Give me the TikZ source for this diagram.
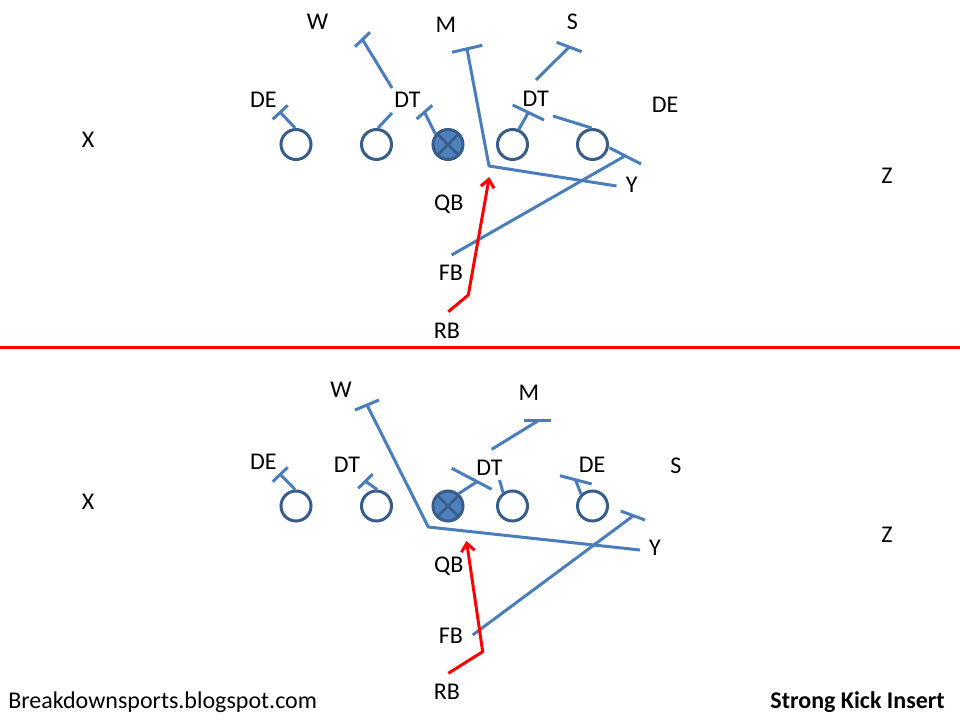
\documentclass[tikz,border=0pt]{standalone}
\usepackage{fontspec}
\setmainfont{Carlito}
\usetikzlibrary{arrows.meta}
\definecolor{routeblue}{HTML}{4A7EBB}
\definecolor{ringblue}{HTML}{385D8A}
\definecolor{fillblue}{HTML}{4F81BD}
\definecolor{runred}{HTML}{FF0000}
\begin{document}
\begin{tikzpicture}[x=0.75pt,y=-0.75pt,
  player/.style={circle,draw=ringblue,line width=2.25pt,minimum size=22.5pt,inner sep=0pt,fill=white},
  snapper/.style={player,fill=fillblue},
  xmark/.style={draw=ringblue,line width=2pt,shorten >=1.2pt,shorten <=1.2pt},
  route/.style={draw=routeblue,line width=2.25pt,line join=round},
  run/.style={draw=runred,line width=2.25pt,line join=round,-{Straight Barb[length=6pt,width=10pt]}},
  divider/.style={draw=runred,line width=2.25pt},
  lbl/.style={font=\fontsize{18}{21}\selectfont,anchor=base,inner sep=0pt},
]
\useasboundingbox (0,0) rectangle (960,720);

% ================= TOP DIAGRAM =================
\node[player]  (t1) at (296,144.5) {};
\node[player]  (t2) at (376.5,144.5) {};
\node[snapper] (t3) at (448,144.5) {};
\node[player]  (t4) at (512.5,144.5) {};
\node[player]  (t5) at (592.5,144.5) {};
\draw[xmark] (t3.45) -- (t3.225);
\draw[xmark] (t3.135) -- (t3.315);

% coordinates
\coordinate (t1e) at (280,112);
\coordinate (t1a) at (272.7,119.3); \coordinate (t1b) at (287.7,105.3);
\coordinate (t2e) at (392,113);
\coordinate (tws) at (392,88); \coordinate (twe) at (362.5,39.5);
\coordinate (twa) at (355,46.7); \coordinate (twb) at (370,32.3);
\coordinate (t3e) at (424.5,112.2);
\coordinate (t3a) at (416.7,119); \coordinate (t3b) at (432.3,105.3);
\coordinate (tms) at (616.5,186); \coordinate (tmk) at (489,166); \coordinate (tme) at (467,48.8);
\coordinate (tma) at (452,52.3); \coordinate (tmb) at (482.3,45.3);
\coordinate (t4e) at (528.3,112.5);
\coordinate (t4a) at (512.7,105); \coordinate (t4b) at (544,120);
\coordinate (tss) at (536,80); \coordinate (tse) at (569.2,47);
\coordinate (tsa) at (556.7,42.3); \coordinate (tsb) at (581.7,51.7);
\coordinate (t5s) at (553,116);
\coordinate (tya) at (609.3,147.7); \coordinate (tyb) at (641,164);
\coordinate (tfs) at (451.7,255); \coordinate (tfe) at (624,156.5);
\coordinate (trs) at (448.3,311.7); \coordinate (trk) at (468.3,295); \coordinate (tre) at (489.3,177);

\draw[route] (t1.93) -- (t1e);  \draw[route] (t1a) -- (t1b);
\draw[route] (t2.85) -- (t2e);
\draw[route] (tws) -- (twe);    \draw[route] (twa) -- (twb);
\draw[route] (t3.140) -- (t3e); \draw[route] (t3a) -- (t3b);
\draw[route] (tms) -- (tmk) -- (tme); \draw[route] (tma) -- (tmb);
\draw[route] (t4.67) -- (t4e);  \draw[route] (t4a) -- (t4b);
\draw[route] (tss) -- (tse);    \draw[route] (tsa) -- (tsb);
\draw[route] (t5s) -- (t5.93);
\draw[route] (tya) -- (tyb);
\draw[route] (tfs) -- (tfe);
\draw[run] (trs) -- (trk) -- (tre);

\node[lbl] (tW)  at (317.5,30) {W};
\node[lbl] (tM)  at (446,33) {M};
\node[lbl] (tS)  at (572.5,29.3) {S};
\node[lbl] (tDE1) at (263.3,107.3) {DE};
\node[lbl] (tDT1) at (407.5,107.3) {DT};
\node[lbl] (tDT2) at (535.8,106.7) {DT};
\node[lbl] (tDE2) at (665,112.7) {DE};
\node[lbl] (tX)  at (88,148) {X};
\node[lbl] (tZ)  at (887,184) {Z};
\node[lbl] (tY)  at (631.7,192.7) {Y};
\node[lbl] (tQB) at (448.7,211) {QB};
\node[lbl] (tFB) at (451,281) {FB};
\node[lbl] (tRB) at (447,339) {RB};

% divider
\coordinate (dl) at (0,347); \coordinate (dr) at (960,347);
\draw[divider] (dl) -- (dr);

% ================= BOTTOM DIAGRAM =================
\node[player]  (b1) at (296,506) {};
\node[player]  (b2) at (376.5,506) {};
\node[snapper] (b3) at (448,506) {};
\node[player]  (b4) at (512.5,506) {};
\node[player]  (b5) at (592.5,506) {};
\draw[xmark] (b3.45) -- (b3.225);
\draw[xmark] (b3.135) -- (b3.315);

\coordinate (b1e) at (280.2,474.5);
\coordinate (b1a) at (272.7,481.7); \coordinate (b1b) at (287.7,467.3);
\coordinate (b2e) at (365.5,481.2);
\coordinate (b2a) at (358.3,488.3); \coordinate (b2b) at (372.7,474);
\coordinate (bws) at (640,550); \coordinate (bwk) at (428.3,527); \coordinate (bwe) at (367,405);
\coordinate (bwa) at (355,410); \coordinate (bwb) at (379,400);
\coordinate (b3e) at (477.3,481.5);
\coordinate (b3a) at (451.7,468.3); \coordinate (b3b) at (491.7,489.3);
\coordinate (b4e) at (499.5,480);
\coordinate (bms) at (491.7,449.3); \coordinate (bme) at (538.3,420.7);
\coordinate (bma) at (524,420.7); \coordinate (bmb) at (550.7,420.7);
\coordinate (b5e) at (575.5,479.8);
\coordinate (b5a) at (560,475.7); \coordinate (b5b) at (591.7,484);
\coordinate (bya) at (620.7,511); \coordinate (byb) at (645,520);
\coordinate (bfs) at (472.7,635); \coordinate (bfe) at (633,516);
\coordinate (brs) at (448.3,673.3); \coordinate (brk) at (482.7,651.7); \coordinate (bre) at (466.5,541);

\draw[route] (b1.93) -- (b1e);  \draw[route] (b1a) -- (b1b);
\draw[route] (b2.88) -- (b2e);  \draw[route] (b2a) -- (b2b);
\draw[route] (bws) -- (bwk) -- (bwe); \draw[route] (bwa) -- (bwb);
\draw[route] (b3.49) -- (b3e);  \draw[route] (b3a) -- (b3b);
\draw[route] (b4.125) -- (b4e);
\draw[route] (bms) -- (bme);    \draw[route] (bma) -- (bmb);
\draw[route] (b5.134) -- (b5e); \draw[route] (b5a) -- (b5b);
\draw[route] (bya) -- (byb);
\draw[route] (bfs) -- (bfe);
\draw[run] (brs) -- (brk) -- (bre);

\node[lbl] (bW)  at (341,397.3) {W};
\node[lbl] (bM)  at (529,400.7) {M};
\node[lbl] (bDE1) at (263.3,469.3) {DE};
\node[lbl] (bDT1) at (347,472.7) {DT};
\node[lbl] (bDT2) at (489.5,475) {DT};
\node[lbl] (bDE2) at (592,472.3) {DE};
\node[lbl] (bS)  at (676,473) {S};
\node[lbl] (bX)  at (88,509) {X};
\node[lbl] (bZ)  at (887,542) {Z};
\node[lbl] (bY)  at (655,555) {Y};
\node[lbl] (bQB) at (448.7,572.7) {QB};
\node[lbl] (bFB) at (451,643.3) {FB};
\node[lbl] (bRB) at (447,699.3) {RB};

% footer
\node[lbl,anchor=base west] (site) at (8,708) {Breakdownsports.blogspot.com};
\node[lbl,anchor=base east,font=\fontsize{18}{21}\selectfont\bfseries] (title) at (945,708) {Strong Kick Insert};
\end{tikzpicture}
\end{document}
